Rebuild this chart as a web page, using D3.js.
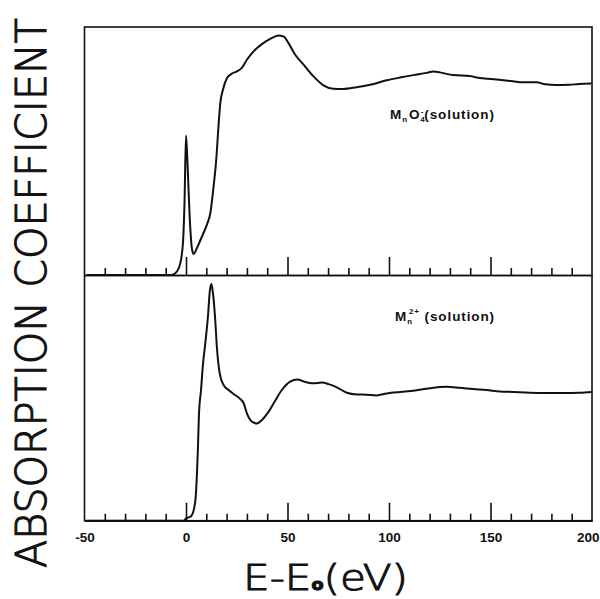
<!DOCTYPE html>
<html>
<head>
<meta charset="utf-8">
<script src="https://cdn.jsdelivr.net/npm/d3@7/dist/d3.min.js"></script>
<style>
  html, body { margin: 0; padding: 0; background: #fff; }
  svg { display: block; }
</style>
</head>
<body>
<svg id="chart" width="600" height="599"></svg>
<script>
// ---- Data ----
// Energy relative to the edge, E - E0 (eV)
const mno4Energy = [-49, -7, -4.4, -2.8, -1.5, -0.7, 0, 0.8, 1.8, 3, 3.8, 5.4, 7.9, 10.3, 12, 13.6, 14.9, 16, 16.9, 18.2, 20.2, 22.6, 25.1, 27.5, 30, 33.3, 37.4, 41.5, 45.6, 48, 50.5, 53.8, 57.9, 62.8, 67.7, 72.6, 77.5, 84, 90.7, 98.9, 105.4, 112, 118.5, 121.8, 125, 131.6, 139.8, 144.8, 153, 161.1, 166, 172.6, 177, 182, 188.7, 193.6, 199.7];
// Normalised absorption (0 = baseline, 1 = panel top) for MnO4- (solution)
const mno4Absorption = [0, 0, 0.015, 0.048, 0.129, 0.304, 0.562, 0.438, 0.237, 0.102, 0.085, 0.109, 0.156, 0.203, 0.25, 0.358, 0.465, 0.6, 0.694, 0.747, 0.794, 0.812, 0.821, 0.835, 0.868, 0.902, 0.931, 0.952, 0.966, 0.962, 0.935, 0.888, 0.848, 0.801, 0.765, 0.751, 0.75, 0.757, 0.767, 0.785, 0.796, 0.806, 0.815, 0.821, 0.817, 0.806, 0.802, 0.794, 0.788, 0.781, 0.777, 0.777, 0.769, 0.766, 0.767, 0.77, 0.772];

const mn2Energy = [-49, -1.1, 0, 1.3, 2.6, 3.8, 4.8, 5.4, 5.9, 6.4, 7.4, 8.4, 9.5, 10.8, 11.8, 12.5, 13.3, 14.4, 15.2, 16.6, 18.5, 21, 23.4, 26.4, 28.4, 30, 32.5, 34.9, 37.4, 40.7, 43.9, 47.2, 51.3, 54.9, 58.2, 62.8, 66.9, 70.2, 74.3, 79.2, 84.1, 89, 93.9, 98.9, 105.4, 112, 118.5, 125, 128.4, 134.9, 141.5, 148, 154.6, 161.1, 169.3, 177.5, 185.7, 193.9, 200];
// Normalised absorption for Mn2+ (solution)
const mn2Absorption = [0, 0, 0.0095, 0.0136, 0.019, 0.043, 0.098, 0.193, 0.301, 0.437, 0.532, 0.64, 0.722, 0.83, 0.939, 0.963, 0.925, 0.817, 0.708, 0.6, 0.552, 0.532, 0.516, 0.498, 0.478, 0.437, 0.403, 0.396, 0.41, 0.444, 0.488, 0.532, 0.566, 0.575, 0.566, 0.559, 0.562, 0.556, 0.543, 0.521, 0.514, 0.513, 0.51, 0.518, 0.524, 0.529, 0.537, 0.544, 0.545, 0.541, 0.536, 0.532, 0.526, 0.524, 0.521, 0.52, 0.52, 0.521, 0.524];

const majorTicks = [0, 50, 100, 150];
const minorTicks = [-40, -30, -20, -10, 10, 20, 30, 40, 60, 70, 80, 90, 110, 120, 130, 140, 160, 170, 180, 190];
const tickLabels = [-50, 0, 50, 100, 150, 200];

const topLabel = { main: "M", sub: "n", main2: "O", sub2: "4", sup2: "-", rest: "(solution)" };
const bottomLabel = { main: "M", sub: "n", sup: "2+", rest: " (solution)" };
const yTitle = "ABSORPTION COEFFICIENT";

// ---- Layout ----
const svg = d3.select("#chart");
const xLeft = 84.5, xRight = 592;
const topY0 = 27, midY = 275, botY = 520.7;

const x = d3.scaleLinear().domain([-50, 200]).range([xLeft, xRight]);
const yTop = d3.scaleLinear().domain([0, 1]).range([midY, topY0]);
const yBot = d3.scaleLinear().domain([0, 1]).range([botY, midY]);

const black = "#111";

// Frame
svg.append("rect")
  .attr("x", xLeft).attr("y", topY0)
  .attr("width", xRight - xLeft).attr("height", botY - topY0)
  .attr("fill", "none").attr("stroke", black).attr("stroke-width", 1.6);

function tickAxes(yPos) {
  const gMinor = svg.append("g").attr("transform", `translate(0,${yPos})`)
    .call(d3.axisBottom(x).tickValues(minorTicks).tickSizeInner(-7).tickSizeOuter(0).tickFormat(""));
  const gMajor = svg.append("g").attr("transform", `translate(0,${yPos})`)
    .call(d3.axisBottom(x).tickValues(majorTicks).tickSizeInner(-18).tickSizeOuter(0).tickFormat(""));
  [gMinor, gMajor].forEach(g => {
    g.select(".domain").attr("stroke", black).attr("stroke-width", 1.6);
    g.selectAll(".tick line").attr("stroke", black).attr("stroke-width", 1.6);
  });
}
tickAxes(midY);
tickAxes(botY);

// Tick labels (bottom only)
const gLab = svg.append("g").attr("transform", `translate(0,${botY})`)
  .call(d3.axisBottom(x).tickValues(tickLabels).tickSize(0).tickPadding(11.5).tickFormat(d3.format("d")));
gLab.select(".domain").remove();
gLab.selectAll("text")
  .attr("font-family", "'Liberation Sans', Arial, sans-serif")
  .attr("font-weight", "bold")
  .attr("font-size", 13.5)
  .attr("fill", black)
  .text(d => d < 0 ? "-" + Math.abs(d) : d);
// keep the last label inside the picture
gLab.selectAll(".tick").filter(d => d === 200).select("text")
  .attr("text-anchor", "end").attr("x", 599 - x(200));

// Curves
const lineTop = d3.line().x(d => x(d[0])).y(d => yTop(d[1])).curve(d3.curveMonotoneX);
const lineBot = d3.line().x(d => x(d[0])).y(d => yBot(d[1])).curve(d3.curveMonotoneX);

svg.append("path")
  .datum(d3.zip(mno4Energy, mno4Absorption))
  .attr("d", lineTop)
  .attr("fill", "none").attr("stroke", black).attr("stroke-width", 2);

svg.append("path")
  .datum(d3.zip(mn2Energy, mn2Absorption))
  .attr("d", lineBot)
  .attr("fill", "none").attr("stroke", black).attr("stroke-width", 2);

// Panel labels
const labFont = "'Liberation Sans', Arial, sans-serif";
const t1 = svg.append("text").attr("x", 390).attr("y", 118.5)
  .attr("font-family", labFont).attr("font-weight", "bold").attr("font-size", 13.5)
  .attr("letter-spacing", 0.9).attr("fill", black);
t1.append("tspan").text(topLabel.main);
t1.append("tspan").attr("font-size", 8).attr("dy", 3).text(topLabel.sub);
t1.append("tspan").attr("dy", -3).attr("dx", 1).text(topLabel.main2);
t1.append("tspan").attr("font-size", 8).attr("dy", 3).text(topLabel.sub2);
t1.append("tspan").attr("font-size", 8).attr("dx", -5).attr("dy", -8).text(topLabel.sup2);
t1.append("tspan").attr("dy", 5).text(topLabel.rest);

const t2 = svg.append("text").attr("x", 395).attr("y", 320.5)
  .attr("font-family", labFont).attr("font-weight", "bold").attr("font-size", 13.5)
  .attr("letter-spacing", 0.9).attr("fill", black);
t2.append("tspan").text(bottomLabel.main);
t2.append("tspan").attr("font-size", 8).attr("dy", 3).text(bottomLabel.sub);
t2.append("tspan").attr("font-size", 8).attr("dx", -4).attr("dy", -10).text(bottomLabel.sup);
t2.append("tspan").attr("dy", 7).text(bottomLabel.rest);

// Axis titles (thin letters thickened slightly with a stroke)
const titleFont = "'DejaVu Sans', sans-serif";
const xt = svg.append("text").attr("x", 243).attr("y", 590)
  .attr("font-family", titleFont).attr("font-weight", 200).attr("font-size", 36)
  .attr("fill", black).attr("stroke", black).attr("stroke-width", 1)
  .attr("textLength", 165).attr("lengthAdjust", "spacingAndGlyphs");
xt.append("tspan").text("E-E");
xt.append("tspan").attr("font-size", 15).attr("font-weight", "bold").text("o");
xt.append("tspan").text("(eV)");

svg.append("text")
  .attr("transform", "translate(46,568) rotate(-90)")
  .attr("font-family", titleFont).attr("font-weight", 200).attr("font-size", 42)
  .attr("fill", black).attr("stroke", black).attr("stroke-width", 1.1)
  .attr("textLength", 550).attr("lengthAdjust", "spacingAndGlyphs")
  .text(yTitle);
</script>
</body>
</html>
